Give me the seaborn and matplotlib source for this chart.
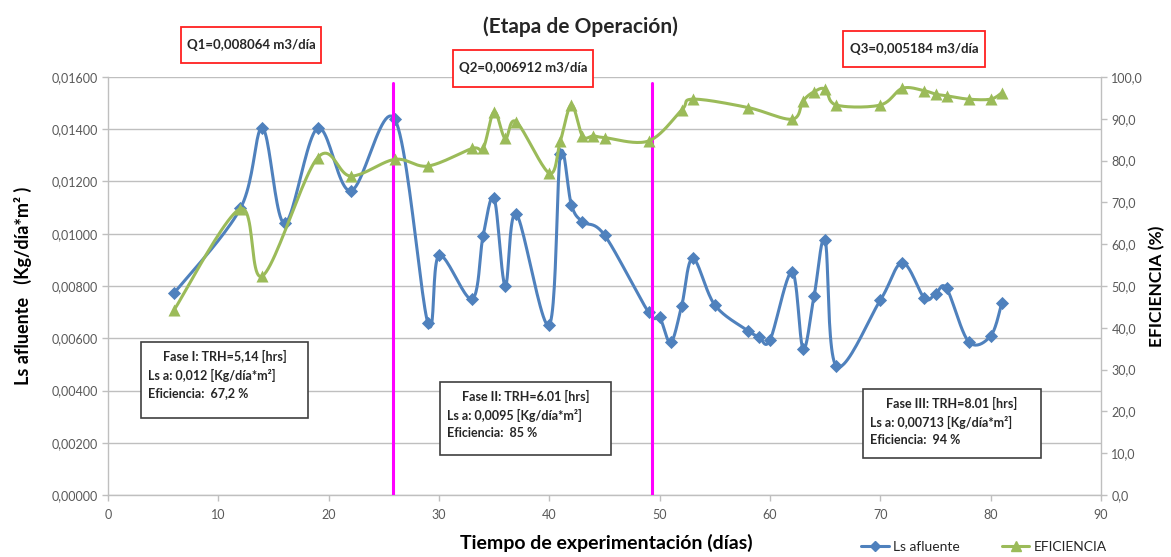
import numpy as np
import pandas as pd
import matplotlib
matplotlib.use("Agg")
import matplotlib.pyplot as plt
from matplotlib.lines import Line2D
from matplotlib.patches import Rectangle
import seaborn as sns

# ---------------- data ----------------
dias_ls = [6, 12, 14, 16, 19, 22, 26, 29, 30, 33, 34, 35, 36, 37, 40, 41, 42, 43, 45,
           49, 50, 51, 52, 53, 55, 58, 59, 60, 62, 63, 64, 65, 66, 70, 72, 74, 75, 76,
           78, 80, 81]
ls_afluente = [0.00773, 0.01097, 0.01404, 0.01040, 0.01404, 0.01164, 0.01438, 0.00657,
               0.00917, 0.00750, 0.00993, 0.01136, 0.00800, 0.01076, 0.00651, 0.01304,
               0.01110, 0.01046, 0.00995, 0.00699, 0.00680, 0.00584, 0.00725, 0.00906,
               0.00727, 0.00629, 0.00606, 0.00593, 0.00855, 0.00559, 0.00763, 0.00976,
               0.00494, 0.00746, 0.00889, 0.00753, 0.00770, 0.00791, 0.00587, 0.00609,
               0.00734]
dias_ef = [6, 12, 14, 19, 22, 26, 29, 33, 34, 35, 36, 37, 40, 41, 42, 43, 44, 45, 49,
           52, 53, 58, 62, 63, 64, 65, 66, 70, 72, 74, 75, 76, 78, 80, 81]
eficiencia = [44.3, 68.5, 52.4, 80.7, 76.3, 80.3, 78.7, 82.9, 82.9, 91.7, 85.3, 89.3,
              77.0, 84.7, 93.3, 85.9, 85.9, 85.5, 84.7, 92.1, 94.7, 92.7, 89.9, 94.3,
              96.5, 97.1, 93.3, 93.3, 97.3, 96.7, 95.9, 95.5, 94.7, 94.7, 96.2]
cambios_fase = [25.8, 49.3]
left_ticks = [0.0, 0.002, 0.004, 0.006, 0.008, 0.010, 0.012, 0.014, 0.016]
right_ticks = [0, 10, 20, 30, 40, 50, 60, 70, 80, 90, 100]
x_ticks = [0, 10, 20, 30, 40, 50, 60, 70, 80, 90]
caudales = ["Q1=0,008064 m3/día", "Q2=0,006912 m3/día", "Q3=0,005184 m3/día"]
fases = [("Fase I: TRH=5,14 [hrs]", "Ls a: 0,012 [Kg/día*m²]", "Eficiencia:  67,2 %"),
         ("Fase II: TRH=6.01 [hrs]", "Ls a: 0,0095 [Kg/día*m²]", "Eficiencia:  85 %"),
         ("Fase III: TRH=8.01 [hrs]", "Ls a: 0,00713 [Kg/día*m²]", "Eficiencia:  94 %")]

BLUE = "#4F81BD"
GREEN = "#9BBB59"
GRAY = "#595959"
FONT = ["Lato", "DejaVu Sans"]


def smooth(x, y, n=24):
    """Excel-like smoothed line: cubic Bezier segments through the points."""
    p = np.column_stack([x, y]).astype(float)
    out = [p[0]]
    t = np.linspace(0, 1, n)[1:, None]
    for i in range(len(p) - 1):
        p0 = p[i - 1] if i > 0 else p[i]
        p1, p2 = p[i], p[i + 1]
        p3 = p[i + 2] if i + 2 < len(p) else p[i + 1]
        c1 = p1 + (p2 - p0) / 6.0
        c2 = p2 - (p3 - p1) / 6.0
        seg = ((1 - t) ** 3) * p1 + 3 * ((1 - t) ** 2) * t * c1 + 3 * (1 - t) * t ** 2 * c2 + t ** 3 * p2
        out.extend(seg)
    out = np.array(out)
    return out[:, 0], out[:, 1]


sns.set_theme(style="white")
plt.rcParams["font.family"] = FONT

fig = plt.figure(figsize=(11.71, 5.57), dpi=100)
ax = fig.add_axes([108 / 1171, 1 - 495 / 557, (1101 - 108) / 1171, (495 - 77) / 557])
ax2 = ax.twinx()

df_ls = pd.DataFrame({"dia": dias_ls, "ls": ls_afluente})
df_ef = pd.DataFrame({"dia": dias_ef, "ef": eficiencia})

# smoothed lines
sx, sy = smooth(df_ls["dia"], df_ls["ls"])
ax.plot(sx, sy, color=BLUE, lw=2.2, zorder=3)
ex, ey = smooth(df_ef["dia"], df_ef["ef"])
ax2.plot(ex, ey, color=GREEN, lw=2.2, zorder=3)

# markers
sns.scatterplot(data=df_ls, x="dia", y="ls", ax=ax, marker="D", s=45, color=BLUE,
                edgecolor=BLUE, linewidth=0, zorder=4, legend=False)
sns.scatterplot(data=df_ef, x="dia", y="ef", ax=ax2, marker="^", s=75, color=GREEN,
                edgecolor=GREEN, linewidth=0, zorder=4, legend=False)

# phase separators
for xc in cambios_fase:
    ax.axvline(xc, color="#FF00FF", lw=2.2, ymax=0.985, zorder=5)

# axes formatting
ax.set_xlim(0, 90)
ax.set_ylim(0, 0.016)
ax2.set_ylim(0, 100)
ax.set_xticks(x_ticks)
ax.set_xticklabels([str(v) for v in x_ticks])
ax.set_yticks(left_ticks)
ax.set_yticklabels([f"{v:.5f}".replace(".", ",") for v in left_ticks])
ax2.set_yticks(right_ticks)
ax2.set_yticklabels([f"{v:.1f}".replace(".", ",") for v in right_ticks])

ax.grid(axis="y", color="#BFBFBF", lw=1.0)
ax.grid(axis="x", visible=False)
ax2.grid(False)
for a in (ax, ax2):
    a.spines["top"].set_visible(False)
    for s in ("left", "right", "bottom"):
        a.spines[s].set_color("#BFBFBF")
        a.spines[s].set_linewidth(1.0)
ax.spines["right"].set_visible(False)
ax2.spines["left"].set_visible(False)
ax2.spines["bottom"].set_visible(False)

ax.tick_params(axis="both", which="both", direction="out", length=4, width=1,
               color="#BFBFBF", labelcolor=GRAY, labelsize=9, bottom=True, left=True)
ax2.tick_params(axis="y", direction="out", length=4, width=1, color="#BFBFBF",
                labelcolor=GRAY, labelsize=9, right=True)
ax.tick_params(axis="x", pad=6)

ax.set_xlabel("Tiempo de experimentación (días)", fontsize=14, fontweight="bold",
              color="black")
ax.set_ylabel("Ls afluente   (Kg/día*m² )", fontsize=13, fontweight="bold",
              color="black", labelpad=14)
ax2.set_ylabel("EFICIENCIA (%)", fontsize=12.5, fontweight="bold", color="black",
               rotation=90)
ax.xaxis.set_label_coords(0.5015, -0.092)
ax2.yaxis.set_label_coords(1.048, 0.5)

fig.text(0.496, 0.952, "(Etapa de Operación)", ha="center", va="center",
         fontsize=15, fontweight="bold", color="#262626")

# flow rate boxes (figure pixel coordinates)
def fig_box(x0, y0, x1, y1, ec, lw):
    fig.add_artist(Rectangle((x0 / 1171, 1 - y1 / 557), (x1 - x0) / 1171, (y1 - y0) / 557,
                             transform=fig.transFigure, fill=True, facecolor="white",
                             edgecolor=ec, lw=lw, zorder=10))

q_boxes = [(181, 27, 321, 63), (453, 50, 593, 87), (843, 31, 985, 67)]
for (x0, y0, x1, y1), txt in zip(q_boxes, caudales):
    fig_box(x0, y0, x1, y1, "#FF2020", 1.3)
    fig.text((x0 + x1) / 2 / 1171, 1 - (y0 + y1) / 2 / 557, txt, ha="center", va="center",
             fontsize=9.5, fontweight="bold", color="#262626", zorder=11)

f_boxes = [(141, 342, 308, 418), (440, 382, 611, 455), (863, 389, 1041, 458)]
for (x0, y0, x1, y1), (l1, l2, l3) in zip(f_boxes, fases):
    fig_box(x0, y0, x1, y1, "#404040", 1.2)
    cx = (x0 + x1) / 2 / 1171
    fig.text(cx, 1 - (y0 + 14) / 557, l1, ha="center", va="center", fontsize=9,
             fontweight="bold", color="#262626", zorder=11)
    fig.text((x0 + 7) / 1171, 1 - (y0 + 33) / 557, l2, ha="left", va="center",
             fontsize=9, fontweight="bold", color="#262626", zorder=11)
    fig.text((x0 + 7) / 1171, 1 - (y0 + 51) / 557, l3, ha="left", va="center",
             fontsize=9, fontweight="bold", color="#262626", zorder=11)

# legend
handles = [Line2D([0], [0], color=BLUE, lw=2.2, marker="D", markersize=5),
           Line2D([0], [0], color=GREEN, lw=2.2, marker="^", markersize=7)]
fig.legend(handles, ["Ls afluente", "EFICIENCIA"], loc="center",
           bbox_to_anchor=(984 / 1171, 1 - 547 / 557), ncol=2, frameon=False,
           fontsize=10, handlelength=2.0, columnspacing=3.0, handletextpad=0.3,
           labelcolor="#262626")

fig.savefig("out.png", dpi=100, facecolor="white")
